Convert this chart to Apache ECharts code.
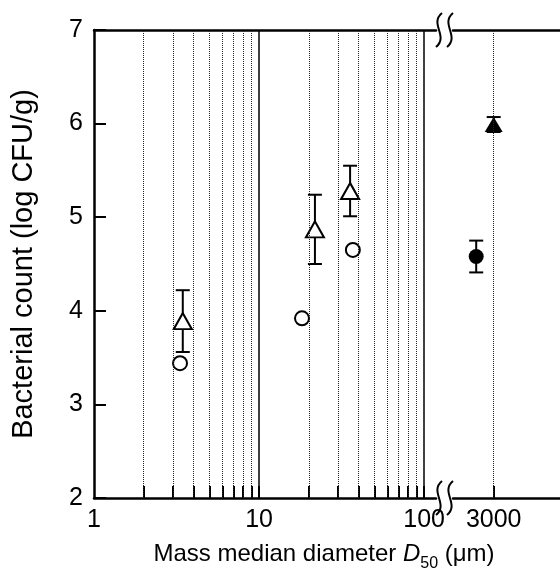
<!DOCTYPE html>
<html><head><meta charset="utf-8">
<script src="https://cdn.jsdelivr.net/npm/echarts@6/dist/echarts.min.js"></script>
<style>html,body{margin:0;padding:0;background:#fff}#c{width:560px;height:574px}</style>
</head><body><div id="c"></div>
<script>
// ---- data ----
const yTicks = [2, 3, 4, 5, 6, 7];
const xTicksLeft = [2, 3, 4, 5, 6, 7, 8, 9, 10, 20, 30, 40, 50, 60, 70, 80, 90, 100];
const xLabelsLeft = [1, 10, 100];
const xTicksRight = [3000];
const xLabelsRight = [3000];
const solidGridLeft = [10, 100];
const dottedGridLeft = [2, 3, 4, 5, 6, 7, 8, 9, 20, 30, 40, 50, 60, 70, 80, 90];
const dottedGridRight = [3000];

const openCircleX = [3.32, 18.2, 37.0];
const openCircleY = [3.44, 3.92, 4.65];
const openTriX = [3.45, 21.8, 35.6];
const openTriY = [3.89, 4.87, 5.28];
const openTriErr = [0.33, 0.37, 0.27];
const filledCircleX = [2350];
const filledCircleY = [4.58];
const filledCircleErr = [0.17];
const filledTriX = [3000];
const filledTriY = [5.99];
const filledTriErr = [0.08];

// ---- chart ----
const FONT = '"Liberation Sans", Arial, Helvetica, sans-serif';
const zip2 = (xs, ys) => xs.map((x, i) => [x, ys[i]]);
const zip3 = (xs, ys, es) => xs.map((x, i) => [x, ys[i], es[i]]);

function errItem(params, api) {
  const x = api.value(0), y = api.value(1), e = api.value(2);
  const t = api.coord([x, y + e]), b = api.coord([x, y - e]);
  const hw = 7, st = { stroke: '#000', lineWidth: 2 };
  return { type: 'group', children: [
    { type: 'line', shape: { x1: t[0], y1: t[1], x2: b[0], y2: b[1] }, style: st },
    { type: 'line', shape: { x1: t[0] - hw, y1: t[1], x2: t[0] + hw, y2: t[1] }, style: st },
    { type: 'line', shape: { x1: b[0] - hw, y1: b[1], x2: b[0] + hw, y2: b[1] }, style: st }
  ]};
}

function breakMark(cx, cy) {
  return [0, 11].map(dx => ({
    type: 'bezierCurve', silent: true, z: 100,
    shape: { x1: cx + dx + 3, y1: cy - 17, cpx1: cx + dx - 10, cpy1: cy - 6,
             cpx2: cx + dx + 10, cpy2: cy + 6, x2: cx + dx - 3, y2: cy + 17 },
    style: { stroke: '#000', lineWidth: 2, fill: null }
  }));
}

const axisLineStyle = { color: '#000', width: 2.5 };
const tickStyle = { color: '#000', width: 2 };
const labelStyle = { fontSize: 25, color: '#000', fontFamily: FONT };
const plainNum = v => String(v);

const dotted = { color: '#222', width: 1, type: [1, 1] };

const option = {
  animation: false,
  backgroundColor: '#fff',
  grid: [
    { left: 94, top: 30, width: 342, height: 468 },
    { left: 453, top: 30, width: 107, height: 468 }
  ],
  xAxis: [
    { gridIndex: 0, type: 'log', min: 1, max: 118, position: 'bottom',
      axisLine: { lineStyle: axisLineStyle },
      axisTick: { inside: true, length: 12, lineStyle: tickStyle, customValues: xTicksLeft },
      axisLabel: { ...labelStyle, margin: 10, customValues: xLabelsLeft, formatter: plainNum },
      splitLine: { show: false }, minorTick: { show: false } },
    { gridIndex: 1, type: 'log', min: 1700, max: 7570, position: 'bottom',
      axisLine: { lineStyle: axisLineStyle },
      axisTick: { inside: true, length: 12, lineStyle: tickStyle, customValues: xTicksRight },
      axisLabel: { ...labelStyle, margin: 10, customValues: xLabelsRight, formatter: plainNum },
      splitLine: { show: false } },
    { gridIndex: 0, type: 'log', min: 1, max: 118, position: 'top',
      axisLine: { lineStyle: axisLineStyle }, axisTick: { show: false },
      axisLabel: { show: false }, splitLine: { show: false } },
    { gridIndex: 1, type: 'log', min: 1700, max: 7570, position: 'top',
      axisLine: { lineStyle: axisLineStyle }, axisTick: { show: false },
      axisLabel: { show: false }, splitLine: { show: false } }
  ],
  yAxis: [
    { gridIndex: 0, type: 'value', min: 2, max: 7, interval: 1,
      name: 'Bacterial count (log CFU/g)', nameLocation: 'middle', nameGap: 56,
      nameTextStyle: { fontSize: 29, color: '#000', fontFamily: FONT },
      axisLine: { show: true, lineStyle: axisLineStyle },
      axisTick: { show: true, inside: true, length: 12, lineStyle: tickStyle, customValues: yTicks },
      axisLabel: { ...labelStyle, margin: 11, customValues: yTicks, formatter: plainNum },
      splitLine: { show: false } },
    { gridIndex: 1, type: 'value', min: 2, max: 7, interval: 1, show: false }
  ],
  graphic: [
    ...breakMark(439, 30),
    ...breakMark(439, 498),
    { type: 'text', x: 324, y: 557, silent: true,
      style: { text: '{a|Mass median diameter }{d|D}{s|50}{a| (μm)}',
        align: 'center', verticalAlign: 'middle', fill: '#000',
        rich: {
          a: { fontSize: 24, fontFamily: FONT, color: '#000', padding: [0, 0, 5, 0], verticalAlign: 'bottom' },
          d: { fontSize: 24, fontFamily: FONT, fontStyle: 'italic', color: '#000', padding: [0, 0, 5, 0], verticalAlign: 'bottom' },
          s: { fontSize: 16, fontFamily: FONT, color: '#000', verticalAlign: 'bottom' }
        } } }
  ],
  series: [
    { type: 'scatter', xAxisIndex: 0, yAxisIndex: 0, data: [], z: 1, silent: true,
      markLine: { silent: true, symbol: 'none', label: { show: false }, animation: false,
        data: [
          ...dottedGridLeft.map(v => ({ xAxis: v, lineStyle: dotted })),
          ...solidGridLeft.map(v => ({ xAxis: v, lineStyle: { color: '#000', width: 1.5, type: 'solid' } }))
        ] } },
    { type: 'scatter', xAxisIndex: 1, yAxisIndex: 1, data: [], z: 1, silent: true,
      markLine: { silent: true, symbol: 'none', label: { show: false }, animation: false,
        data: dottedGridRight.map(v => ({ xAxis: v, lineStyle: dotted })) } },
    { type: 'custom', xAxisIndex: 0, yAxisIndex: 0, z: 2, renderItem: errItem,
      encode: { x: 0, y: 1 }, data: zip3(openTriX, openTriY, openTriErr) },
    { type: 'custom', xAxisIndex: 1, yAxisIndex: 1, z: 2, renderItem: errItem,
      encode: { x: 0, y: 1 }, data: zip3(filledCircleX, filledCircleY, filledCircleErr) },
    { type: 'custom', xAxisIndex: 1, yAxisIndex: 1, z: 4, renderItem: errItem,
      encode: { x: 0, y: 1 }, data: zip3(filledTriX, filledTriY, filledTriErr) },
    { type: 'scatter', xAxisIndex: 0, yAxisIndex: 0, z: 3, symbol: 'circle', symbolSize: 14,
      itemStyle: { color: '#fff', borderColor: '#000', borderWidth: 2, opacity: 1 },
      data: zip2(openCircleX, openCircleY) },
    { type: 'scatter', xAxisIndex: 0, yAxisIndex: 0, z: 3, symbol: 'triangle', symbolSize: [18, 16],
      itemStyle: { color: '#fff', borderColor: '#000', borderWidth: 2, opacity: 1 },
      data: zip2(openTriX, openTriY) },
    { type: 'scatter', xAxisIndex: 1, yAxisIndex: 1, z: 3, symbol: 'circle', symbolSize: 15,
      itemStyle: { color: '#000', opacity: 1 },
      data: zip2(filledCircleX, filledCircleY) },
    { type: 'scatter', xAxisIndex: 1, yAxisIndex: 1, z: 3, symbol: 'triangle', symbolSize: [18, 15],
      itemStyle: { color: '#000', opacity: 1 },
      data: zip2(filledTriX, filledTriY) }
  ]
};

const chart = echarts.init(document.getElementById('c'), null, { renderer: 'canvas' });
chart.setOption(option);
</script>
</body></html>
